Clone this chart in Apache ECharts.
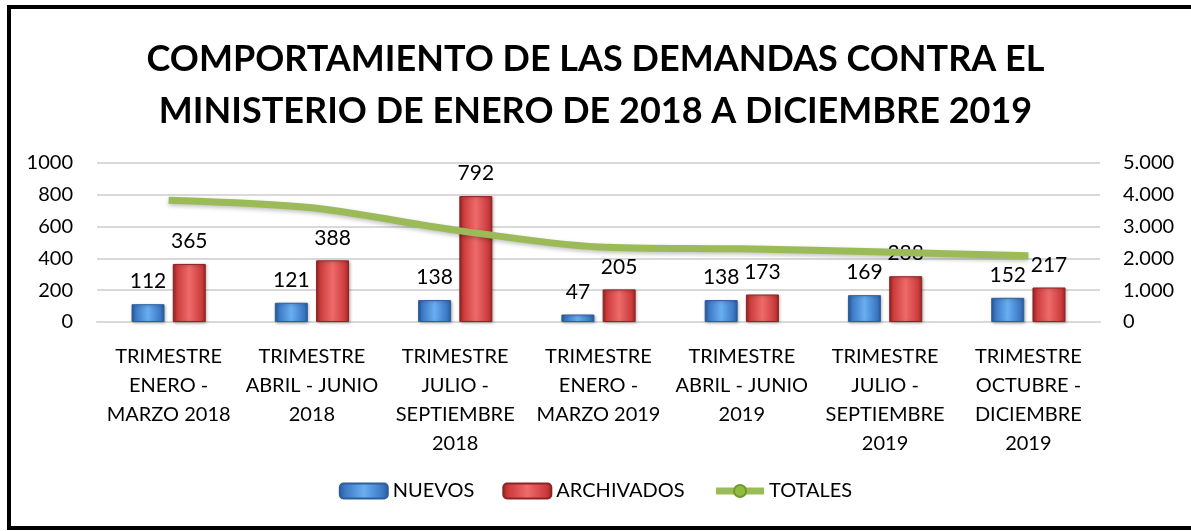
<!DOCTYPE html>
<html>
<head>
<meta charset="utf-8">
<script src="https://cdn.jsdelivr.net/npm/echarts@6/dist/echarts.min.js"></script>
<style>
  html, body { margin: 0; padding: 0; background: #fff; }
  #main { width: 1191px; height: 531px; }
</style>
</head>
<body>
<div id="main"></div>
<script>
// datos del grafico
var categorias = [
  'TRIMESTRE\nENERO -\nMARZO 2018',
  'TRIMESTRE\nABRIL - JUNIO\n2018',
  'TRIMESTRE\nJULIO -\nSEPTIEMBRE\n2018',
  'TRIMESTRE\nENERO -\nMARZO 2019',
  'TRIMESTRE\nABRIL - JUNIO\n2019',
  'TRIMESTRE\nJULIO -\nSEPTIEMBRE\n2019',
  'TRIMESTRE\nOCTUBRE -\nDICIEMBRE\n2019'
];
var nuevos = [112, 121, 138, 47, 138, 169, 152];
var archivados = [365, 388, 792, 205, 173, 288, 217];
var totales = [3830, 3590, 2890, 2360, 2300, 2200, 2080];

var fuente = 'Lato, "Open Sans", sans-serif';

// gradiente tipo bisel para las barras
function bisel(claro, medio, oscuro) {
  return new echarts.graphic.LinearGradient(0, 0, 1, 0, [
    { offset: 0, color: oscuro },
    { offset: 0.12, color: medio },
    { offset: 0.5, color: claro },
    { offset: 0.88, color: medio },
    { offset: 1, color: oscuro }
  ]);
}

var myChart = echarts.init(document.getElementById('main'));

var option = {
  backgroundColor: '#fff',
  animation: false,
  title: {
    text: 'COMPORTAMIENTO DE LAS DEMANDAS CONTRA EL\nMINISTERIO DE ENERO DE 2018 A DICIEMBRE 2019',
    left: 'center',
    top: 28,
    textStyle: {
      fontFamily: fuente,
      fontSize: 36,
      fontWeight: 'bold',
      color: '#000',
      lineHeight: 52
    }
  },
  graphic: [{
    type: 'polyline',
    shape: { points: [[1191, 7], [9, 7], [9, 528], [1191, 528]] },
    style: { fill: null, stroke: '#000', lineWidth: 4 },
    silent: true
  }],
  legend: {
    bottom: 25,
    left: 'center',
    itemWidth: 48,
    itemHeight: 15,
    itemGap: 28,
    textStyle: { fontFamily: fuente, fontSize: 20, color: '#000' },
    data: ['NUEVOS', 'ARCHIVADOS', {
      name: 'TOTALES',
      lineStyle: { width: 7, color: '#9bbb59' }
    }]
  },
  grid: {
    left: 97,
    right: 91,
    top: 163,
    bottom: 209,
    containLabel: false
  },
  xAxis: {
    type: 'category',
    data: categorias,
    axisLine: { show: true, lineStyle: { color: '#d9d9d9', width: 2 } },
    axisTick: { show: false },
    axisLabel: {
      interval: 0,
      margin: 20,
      fontFamily: fuente,
      fontSize: 20,
      lineHeight: 29,
      color: '#000'
    }
  },
  yAxis: [{
    type: 'value',
    min: 0,
    max: 1000,
    interval: 200,
    axisLine: { show: false },
    axisTick: { show: false },
    splitLine: { lineStyle: { color: '#d9d9d9', width: 2 } },
    axisLabel: {
      margin: 24,
      fontFamily: fuente,
      fontSize: 20,
      color: '#000',
      formatter: function (v) { return String(v); }
    }
  }, {
    type: 'value',
    min: 0,
    max: 5000,
    interval: 1000,
    axisLine: { show: false },
    axisTick: { show: false },
    splitLine: { show: false },
    axisLabel: {
      margin: 23,
      fontFamily: fuente,
      fontSize: 20,
      color: '#000',
      formatter: function (v) {
        return v === 0 ? '0' : (v / 1000) + '.000';
      }
    }
  }],
  series: [{
    name: 'NUEVOS',
    type: 'bar',
    data: nuevos,
    barWidth: 33,
    barGap: '25%',
    itemStyle: {
      color: bisel('#6aaef0', '#3b78c4', '#2a5a99'),
      borderColor: '#2d5f9e',
      borderWidth: 1,
      shadowColor: 'rgba(0,0,0,0.3)',
      shadowBlur: 3,
      shadowOffsetX: 1,
      shadowOffsetY: 1
    },
    label: {
      show: true,
      position: 'top',
      distance: 12,
      fontFamily: fuente,
      fontSize: 21,
      color: '#000'
    }
  }, {
    name: 'ARCHIVADOS',
    type: 'bar',
    data: archivados,
    barWidth: 33,
    itemStyle: {
      color: bisel('#ee6b6b', '#cc3b3b', '#962626'),
      borderColor: '#8e2424',
      borderWidth: 1,
      shadowColor: 'rgba(0,0,0,0.3)',
      shadowBlur: 3,
      shadowOffsetX: 1,
      shadowOffsetY: 1
    },
    label: {
      show: true,
      position: 'top',
      distance: 12,
      fontFamily: fuente,
      fontSize: 21,
      color: '#000'
    }
  }, {
    name: 'TOTALES',
    type: 'line',
    yAxisIndex: 1,
    data: totales,
    smooth: 0.3,
    symbol: 'circle',
    symbolSize: 16,
    showSymbol: false,
    itemStyle: { color: '#8fbc3f', borderColor: '#6f9a2a', borderWidth: 1 },
    lineStyle: {
      color: '#9bbb59',
      width: 7,
      shadowColor: 'rgba(0,0,0,0.25)',
      shadowBlur: 4,
      shadowOffsetY: 2
    },
    z: 5
  }]
};

myChart.setOption(option);
</script>
</body>
</html>
